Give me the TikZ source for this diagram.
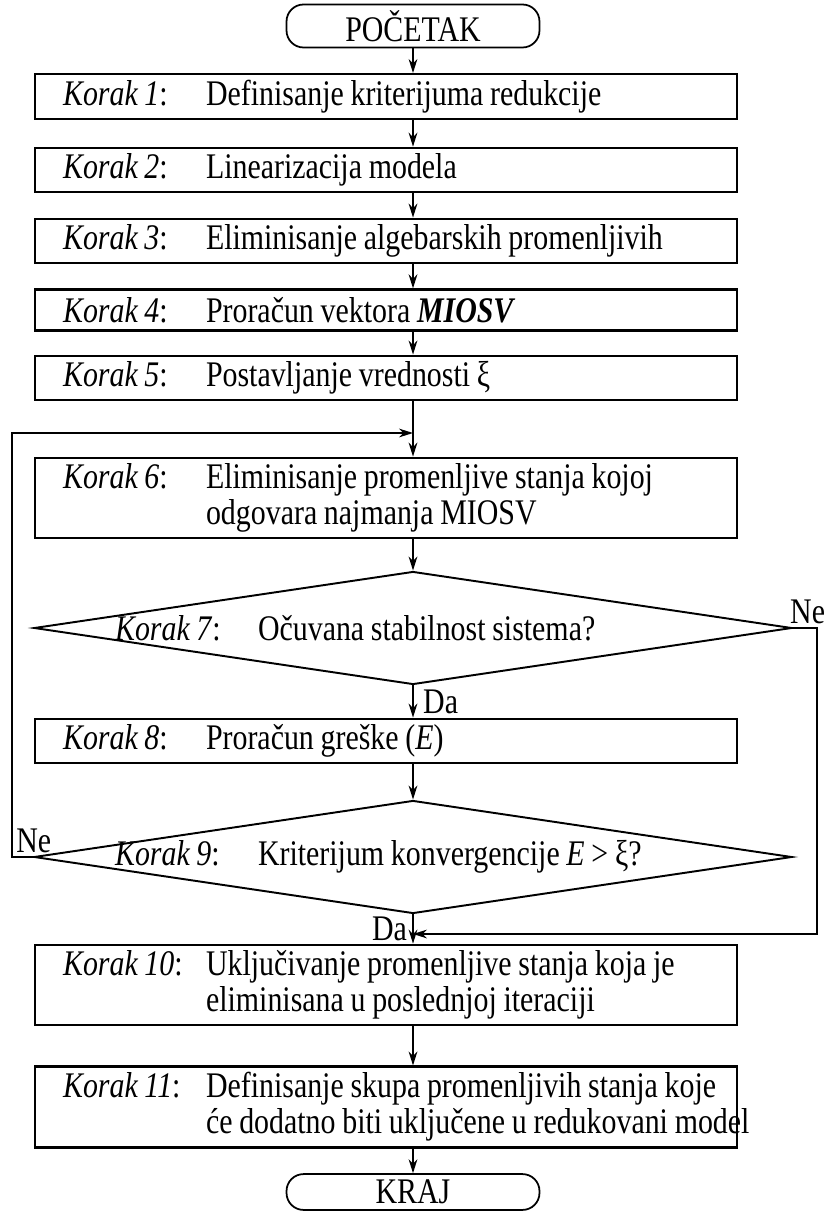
\documentclass[tikz,border=0pt]{standalone}
\usepackage{fontspec}
\setmainfont{Liberation Serif}[FakeStretch=0.83, WordSpace=0.9]
\usetikzlibrary{shapes.geometric,arrows.meta}

\newcommand{\korak}[1]{\spaceskip=0pt\xspaceskip=0pt\makebox[2.86cm][l]{\textit{Korak #1}:}}
\newcommand{\korakpad}{\hspace*{2.86cm}}

\begin{document}
\begin{tikzpicture}[
        x=0.02cm, y=-0.02cm,
        font=\fontsize{20.5}{20.5}\selectfont,
        >={Stealth[length=8pt,width=5pt]},
        korakbox/.style={draw, line width=1.3pt, minimum width=14.04cm,
            text width=12.92cm, inner xsep=0.56cm, align=left,
            minimum height=0.82cm},
        twoline/.style={korakbox, minimum height=1.36cm},
        terminal/.style={draw, line width=1pt, rounded corners=0.34cm,
            minimum width=5.06cm, minimum height=0.7cm},
        decision/.style={draw, line width=1.1pt, diamond, aspect=6.7,
            inner sep=0pt, minimum width=15.16cm, minimum height=2.26cm},
        flow/.style={->, line width=0.9pt}
    ]
        \useasboundingbox (0,0) rectangle (826,1212);
        % Axis and rails for the connectors
        \coordinate (axis) at (413,0);
        \coordinate (leftrail) at (12,0);
        \coordinate (rightrail) at (817,0);
        \coordinate (loopin) at (413,433);
        \coordinate (joinin) at (413,934);
        % Start and end
        \node[terminal] (Start) at (413,26) {POČETAK};
        \node[terminal] (End) at (413,1192) {KRAJ};
        % One-line steps
        \foreach \i/\y/\txt in {1/96.5/{Definisanje kriterijuma redukcije},
                2/170/{Linearizacija modela},
                3/241/{Eliminisanje algebarskih promenljivih},
                4/310/{Proračun vektora \textbf{\textit{MIOSV}}},
                5/378/{Postavljanje vrednosti ξ},
                8/741/{Proračun greške (\textit{E})}} {
            \node[korakbox] (Korak-\i) at (386,\y) {\korak{\i}\mbox{\txt}};
        }
        % Two-line steps
        \node[twoline] (Korak-6) at (386,498)
            {\korak{6}\mbox{Eliminisanje promenljive stanja kojoj}\\
             \korakpad\mbox{odgovara najmanja MIOSV}};
        \node[twoline] (Korak-10) at (386,985)
            {\korak{10}\mbox{Uključivanje promenljive stanja koja je}\\
             \korakpad\mbox{eliminisana u poslednjoj iteraciji}};
        \node[twoline] (Korak-11) at (386,1107)
            {\korak{11}\mbox{Definisanje skupa promenljivih stanja koje}\\
             \korakpad\mbox{će dodatno biti uključene u redukovani model}};
        % Decisions
        \node[decision] (Korak-7) at (413,628)
            {\rlap{\hspace*{-5.96cm}\korak{7}Očuvana stabilnost sistema?}};
        \node[decision] (Korak-9) at (413,857)
            {\rlap{\hspace*{-5.96cm}\korak{9}Kriterijum konvergencije \textit{E} > ξ?}};
        % Main flow
        \draw[flow] (Start) -- (Korak-1.north -| axis);
        \foreach \a/\b in {Korak-1/Korak-2, Korak-2/Korak-3, Korak-3/Korak-4,
                Korak-4/Korak-5, Korak-5/Korak-6, Korak-10/Korak-11} {
            \draw[flow] (\a.south -| axis) -- (\b.north -| axis);
        }
        \draw[flow] (Korak-6.south -| axis) -- (Korak-7.north);
        \draw[flow] (Korak-7.south) -- node[right, xshift=2pt] {Da} (Korak-8.north -| axis);
        \draw[flow] (Korak-8.south -| axis) -- (Korak-9.north);
        \draw[flow] (Korak-9.south) -- node[left, inner sep=3pt] {Da} (Korak-10.north -| axis);
        \draw[flow] (Korak-11.south -| axis) -- (End);
        % Branches
        \draw[flow] (Korak-7.east) node[above right, inner sep=0pt, xshift=-2pt, yshift=2pt] {Ne}
            -- (Korak-7.east -| rightrail) |- (joinin);
        \draw[flow] (Korak-9.west) -- (Korak-9.west -| leftrail)
            node[above right, inner sep=2pt] {Ne} |- (loopin);
    \end{tikzpicture}
\end{document}
